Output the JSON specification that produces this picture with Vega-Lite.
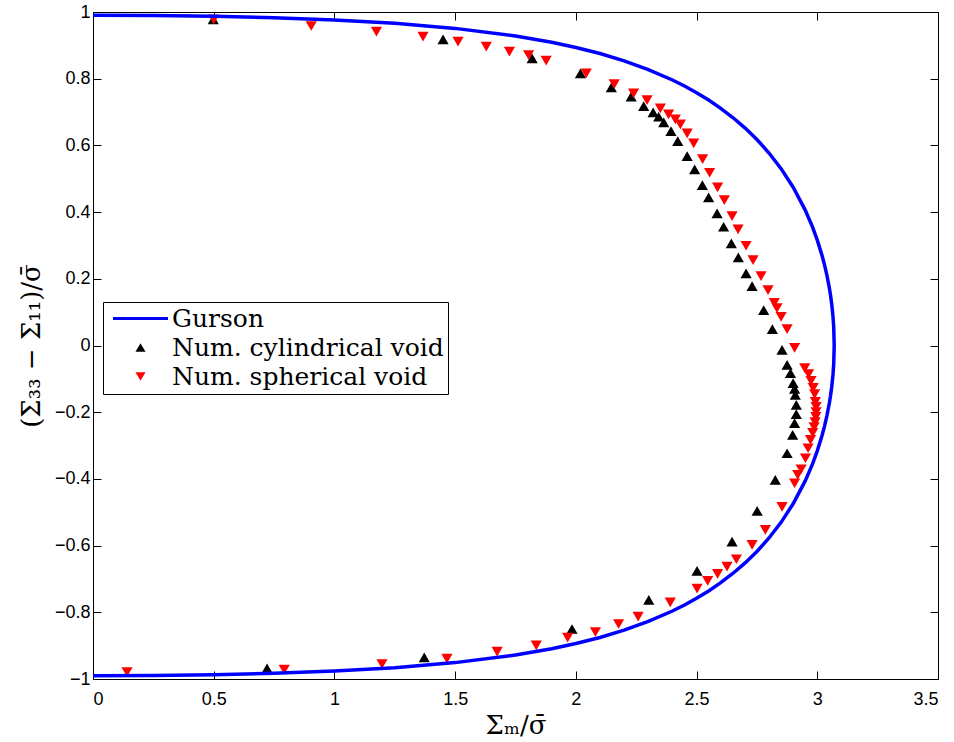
{
  "$schema": "https://vega.github.io/schema/vega-lite/v6.json",
  "autosize": "none",
  "width": 845,
  "height": 667,
  "padding": {"left": 93, "top": 12, "right": 16, "bottom": 63},
  "background": "white",
  "config": {
    "view": {"stroke": "black", "strokeWidth": 1},
    "axis": {
      "domainColor": "black", "domainWidth": 1, "tickColor": "black", "tickWidth": 1, "tickSize": -8,
      "grid": false, "labelFont": "Liberation Sans", "labelFontSize": 18, "labelColor": "black",
      "titleFont": "DejaVu Serif", "titleFontSize": 26, "titleFontWeight": "normal", "titleColor": "black"
    },
    "legend": {
      "orient": "none", "legendX": 10, "legendY": 290, "strokeColor": "black", "fillColor": "white",
      "padding": 4, "symbolSize": 100, "symbolOffset": 21, "labelOffset": 19, "labelFont": "DejaVu Serif",
      "labelFontSize": 25, "labelColor": "black", "rowPadding": 3, "labelLimit": 0, "symbolStrokeWidth": 0
    }
  },
  "datasets": {
    "curve": [
      {"i": 0, "x": 0, "y": -0.99}, {"i": 1, "x": 0.25, "y": -0.98928}, {"i": 2, "x": 0.5, "y": -0.98702},
      {"i": 3, "x": 0.75, "y": -0.98288}, {"i": 4, "x": 1.0, "y": -0.97625}, {"i": 5, "x": 1.25, "y": -0.9661},
      {"i": 6, "x": 1.5, "y": -0.95088}, {"i": 7, "x": 1.75, "y": -0.92808}, {"i": 8, "x": 1.9, "y": -0.9092},
      {"i": 9, "x": 2.0, "y": -0.89373}, {"i": 10, "x": 2.1, "y": -0.87539}, {"i": 11, "x": 2.2, "y": -0.85358},
      {"i": 12, "x": 2.3, "y": -0.82752}, {"i": 13, "x": 2.4, "y": -0.79614}, {"i": 14, "x": 2.45, "y": -0.77805},
      {"i": 15, "x": 2.5, "y": -0.75806}, {"i": 16, "x": 2.55, "y": -0.73591}, {"i": 17, "x": 2.6, "y": -0.71125},
      {"i": 18, "x": 2.65, "y": -0.68368}, {"i": 19, "x": 2.7, "y": -0.65265}, {"i": 20, "x": 2.75, "y": -0.61746},
      {"i": 21, "x": 2.8, "y": -0.57714}, {"i": 22, "x": 2.85, "y": -0.53025}, {"i": 23, "x": 2.9, "y": -0.47455},
      {"i": 24, "x": 2.95, "y": -0.40603}, {"i": 25, "x": 2.98, "y": -0.35556}, {"i": 26, "x": 3.0, "y": -0.31594},
      {"i": 27, "x": 3.02, "y": -0.26907}, {"i": 28, "x": 3.03, "y": -0.24162}, {"i": 29, "x": 3.04, "y": -0.21014},
      {"i": 30, "x": 3.05, "y": -0.1724}, {"i": 31, "x": 3.055, "y": -0.14967}, {"i": 32, "x": 3.06, "y": -0.12272},
      {"i": 33, "x": 3.065, "y": -0.0874}, {"i": 34, "x": 3.068, "y": -0.0563}, {"i": 35, "x": 3.0701, "y": 0},
      {"i": 36, "x": 3.068, "y": 0.0563}, {"i": 37, "x": 3.065, "y": 0.0874}, {"i": 38, "x": 3.06, "y": 0.12272},
      {"i": 39, "x": 3.055, "y": 0.14967}, {"i": 40, "x": 3.05, "y": 0.1724}, {"i": 41, "x": 3.04, "y": 0.21014},
      {"i": 42, "x": 3.03, "y": 0.24162}, {"i": 43, "x": 3.02, "y": 0.26907}, {"i": 44, "x": 3.0, "y": 0.31594},
      {"i": 45, "x": 2.98, "y": 0.35556}, {"i": 46, "x": 2.95, "y": 0.40603}, {"i": 47, "x": 2.9, "y": 0.47455},
      {"i": 48, "x": 2.85, "y": 0.53025}, {"i": 49, "x": 2.8, "y": 0.57714}, {"i": 50, "x": 2.75, "y": 0.61746},
      {"i": 51, "x": 2.7, "y": 0.65265}, {"i": 52, "x": 2.65, "y": 0.68368}, {"i": 53, "x": 2.6, "y": 0.71125},
      {"i": 54, "x": 2.55, "y": 0.73591}, {"i": 55, "x": 2.5, "y": 0.75806}, {"i": 56, "x": 2.45, "y": 0.77805},
      {"i": 57, "x": 2.4, "y": 0.79614}, {"i": 58, "x": 2.3, "y": 0.82752}, {"i": 59, "x": 2.2, "y": 0.85358},
      {"i": 60, "x": 2.1, "y": 0.87539}, {"i": 61, "x": 2.0, "y": 0.89373}, {"i": 62, "x": 1.9, "y": 0.9092},
      {"i": 63, "x": 1.75, "y": 0.92808}, {"i": 64, "x": 1.5, "y": 0.95088}, {"i": 65, "x": 1.25, "y": 0.9661},
      {"i": 66, "x": 1.0, "y": 0.97625}, {"i": 67, "x": 0.75, "y": 0.98288}, {"i": 68, "x": 0.5, "y": 0.98702},
      {"i": 69, "x": 0.25, "y": 0.98928}, {"i": 70, "x": 0, "y": 0.99}
    ],
    "points": [
      {"s": "Num. cylindrical void", "x": 0.498, "y": 0.978}, {"s": "Num. cylindrical void", "x": 1.45, "y": 0.918},
      {"s": "Num. cylindrical void", "x": 1.819, "y": 0.861}, {"s": "Num. cylindrical void", "x": 2.019, "y": 0.816},
      {"s": "Num. cylindrical void", "x": 2.147, "y": 0.774}, {"s": "Num. cylindrical void", "x": 2.229, "y": 0.746},
      {"s": "Num. cylindrical void", "x": 2.281, "y": 0.718}, {"s": "Num. cylindrical void", "x": 2.32, "y": 0.699},
      {"s": "Num. cylindrical void", "x": 2.343, "y": 0.686}, {"s": "Num. cylindrical void", "x": 2.364, "y": 0.669},
      {"s": "Num. cylindrical void", "x": 2.394, "y": 0.643}, {"s": "Num. cylindrical void", "x": 2.422, "y": 0.613},
      {"s": "Num. cylindrical void", "x": 2.461, "y": 0.568}, {"s": "Num. cylindrical void", "x": 2.492, "y": 0.528},
      {"s": "Num. cylindrical void", "x": 2.524, "y": 0.481}, {"s": "Num. cylindrical void", "x": 2.55, "y": 0.444},
      {"s": "Num. cylindrical void", "x": 2.585, "y": 0.396}, {"s": "Num. cylindrical void", "x": 2.612, "y": 0.356},
      {"s": "Num. cylindrical void", "x": 2.644, "y": 0.306}, {"s": "Num. cylindrical void", "x": 2.673, "y": 0.264},
      {"s": "Num. cylindrical void", "x": 2.705, "y": 0.216}, {"s": "Num. cylindrical void", "x": 2.73, "y": 0.178},
      {"s": "Num. cylindrical void", "x": 2.778, "y": 0.106}, {"s": "Num. cylindrical void", "x": 2.814, "y": 0.049},
      {"s": "Num. cylindrical void", "x": 2.854, "y": -0.013}, {"s": "Num. cylindrical void", "x": 2.875, "y": -0.058},
      {"s": "Num. cylindrical void", "x": 2.889, "y": -0.083}, {"s": "Num. cylindrical void", "x": 2.9, "y": -0.113},
      {"s": "Num. cylindrical void", "x": 2.906, "y": -0.13}, {"s": "Num. cylindrical void", "x": 2.909, "y": -0.148},
      {"s": "Num. cylindrical void", "x": 2.913, "y": -0.178}, {"s": "Num. cylindrical void", "x": 2.913, "y": -0.206},
      {"s": "Num. cylindrical void", "x": 2.906, "y": -0.233}, {"s": "Num. cylindrical void", "x": 2.898, "y": -0.268},
      {"s": "Num. cylindrical void", "x": 2.875, "y": -0.323}, {"s": "Num. cylindrical void", "x": 2.826, "y": -0.403},
      {"s": "Num. cylindrical void", "x": 2.751, "y": -0.496}, {"s": "Num. cylindrical void", "x": 2.647, "y": -0.588},
      {"s": "Num. cylindrical void", "x": 2.502, "y": -0.676}, {"s": "Num. cylindrical void", "x": 2.302, "y": -0.763},
      {"s": "Num. cylindrical void", "x": 1.984, "y": -0.85}, {"s": "Num. cylindrical void", "x": 1.372, "y": -0.935},
      {"s": "Num. cylindrical void", "x": 0.721, "y": -0.968},
      {"s": "Num. spherical void", "x": 0.5, "y": 0.978}, {"s": "Num. spherical void", "x": 0.904, "y": 0.958},
      {"s": "Num. spherical void", "x": 1.174, "y": 0.941}, {"s": "Num. spherical void", "x": 1.367, "y": 0.926},
      {"s": "Num. spherical void", "x": 1.512, "y": 0.911}, {"s": "Num. spherical void", "x": 1.629, "y": 0.896},
      {"s": "Num. spherical void", "x": 1.725, "y": 0.881}, {"s": "Num. spherical void", "x": 1.804, "y": 0.871},
      {"s": "Num. spherical void", "x": 1.877, "y": 0.854}, {"s": "Num. spherical void", "x": 2.043, "y": 0.816},
      {"s": "Num. spherical void", "x": 2.159, "y": 0.784}, {"s": "Num. spherical void", "x": 2.239, "y": 0.756},
      {"s": "Num. spherical void", "x": 2.295, "y": 0.736}, {"s": "Num. spherical void", "x": 2.35, "y": 0.711},
      {"s": "Num. spherical void", "x": 2.384, "y": 0.693}, {"s": "Num. spherical void", "x": 2.412, "y": 0.678},
      {"s": "Num. spherical void", "x": 2.433, "y": 0.663}, {"s": "Num. spherical void", "x": 2.461, "y": 0.636},
      {"s": "Num. spherical void", "x": 2.488, "y": 0.606}, {"s": "Num. spherical void", "x": 2.525, "y": 0.559},
      {"s": "Num. spherical void", "x": 2.554, "y": 0.518}, {"s": "Num. spherical void", "x": 2.587, "y": 0.474},
      {"s": "Num. spherical void", "x": 2.615, "y": 0.436}, {"s": "Num. spherical void", "x": 2.647, "y": 0.388},
      {"s": "Num. spherical void", "x": 2.672, "y": 0.348}, {"s": "Num. spherical void", "x": 2.705, "y": 0.299},
      {"s": "Num. spherical void", "x": 2.734, "y": 0.256}, {"s": "Num. spherical void", "x": 2.767, "y": 0.208},
      {"s": "Num. spherical void", "x": 2.796, "y": 0.166}, {"s": "Num. spherical void", "x": 2.822, "y": 0.128},
      {"s": "Num. spherical void", "x": 2.833, "y": 0.112}, {"s": "Num. spherical void", "x": 2.85, "y": 0.086},
      {"s": "Num. spherical void", "x": 2.875, "y": 0.049}, {"s": "Num. spherical void", "x": 2.906, "y": -0.007},
      {"s": "Num. spherical void", "x": 2.948, "y": -0.068}, {"s": "Num. spherical void", "x": 2.964, "y": -0.086},
      {"s": "Num. spherical void", "x": 2.974, "y": -0.106}, {"s": "Num. spherical void", "x": 2.983, "y": -0.127},
      {"s": "Num. spherical void", "x": 2.989, "y": -0.146}, {"s": "Num. spherical void", "x": 2.992, "y": -0.169},
      {"s": "Num. spherical void", "x": 2.995, "y": -0.184}, {"s": "Num. spherical void", "x": 2.995, "y": -0.2},
      {"s": "Num. spherical void", "x": 2.994, "y": -0.214}, {"s": "Num. spherical void", "x": 2.991, "y": -0.23},
      {"s": "Num. spherical void", "x": 2.987, "y": -0.245}, {"s": "Num. spherical void", "x": 2.981, "y": -0.262},
      {"s": "Num. spherical void", "x": 2.972, "y": -0.283}, {"s": "Num. spherical void", "x": 2.962, "y": -0.308},
      {"s": "Num. spherical void", "x": 2.951, "y": -0.338}, {"s": "Num. spherical void", "x": 2.933, "y": -0.371},
      {"s": "Num. spherical void", "x": 2.919, "y": -0.388}, {"s": "Num. spherical void", "x": 2.906, "y": -0.413},
      {"s": "Num. spherical void", "x": 2.854, "y": -0.484}, {"s": "Num. spherical void", "x": 2.785, "y": -0.553},
      {"s": "Num. spherical void", "x": 2.73, "y": -0.598}, {"s": "Num. spherical void", "x": 2.665, "y": -0.641},
      {"s": "Num. spherical void", "x": 2.626, "y": -0.663}, {"s": "Num. spherical void", "x": 2.587, "y": -0.685},
      {"s": "Num. spherical void", "x": 2.546, "y": -0.706}, {"s": "Num. spherical void", "x": 2.502, "y": -0.729},
      {"s": "Num. spherical void", "x": 2.391, "y": -0.77}, {"s": "Num. spherical void", "x": 2.258, "y": -0.813},
      {"s": "Num. spherical void", "x": 2.177, "y": -0.835}, {"s": "Num. spherical void", "x": 2.081, "y": -0.859},
      {"s": "Num. spherical void", "x": 1.966, "y": -0.876}, {"s": "Num. spherical void", "x": 1.836, "y": -0.899},
      {"s": "Num. spherical void", "x": 1.674, "y": -0.918}, {"s": "Num. spherical void", "x": 1.466, "y": -0.939},
      {"s": "Num. spherical void", "x": 1.197, "y": -0.955}, {"s": "Num. spherical void", "x": 0.792, "y": -0.972},
      {"s": "Num. spherical void", "x": 0.141, "y": -0.979}
    ]
  },
  "layer": [
    {
      "data": {"name": "points"},
      "mark": {"type": "point", "filled": true, "size": 125, "opacity": 1, "strokeWidth": 0},
      "encoding": {
        "x": {"field": "x", "type": "quantitative", "scale": {"domain": [0, 3.5], "nice": false, "zero": false},
              "axis": {"orient": "top", "labels": false, "title": null, "values": [0, 0.5, 1, 1.5, 2, 2.5, 3, 3.5]}},
        "y": {"field": "y", "type": "quantitative", "scale": {"domain": [-1, 1], "nice": false, "zero": false},
              "axis": {"orient": "right", "labels": false, "title": null, "values": [-1, -0.8, -0.6, -0.4, -0.2, 0, 0.2, 0.4, 0.6, 0.8, 1]}},
        "color": {"field": "s", "type": "nominal",
                  "scale": {"domain": ["Gurson", "Num. cylindrical void", "Num. spherical void"], "range": ["#0000ff", "#000000", "#ff0000"]},
                  "legend": {"title": null}},
        "shape": {"field": "s", "type": "nominal",
                  "scale": {"domain": ["Gurson", "Num. cylindrical void", "Num. spherical void"], "range": ["M-5.5,-0.3H5.5V0.3H-5.5Z", "triangle-up", "triangle-down"]},
                  "legend": {"title": null}}
      }
    },
    {
      "data": {"name": "curve"},
      "mark": {"type": "line", "color": "#0000ff", "strokeWidth": 3.5},
      "encoding": {
        "x": {"field": "x", "type": "quantitative", "scale": {"domain": [0, 3.5], "nice": false, "zero": false},
              "axis": {"orient": "bottom", "title": "Σₘ/σ̄", "format": "~g", "labelPadding": 19, "titlePadding": 4,
                       "values": [0, 0.5, 1, 1.5, 2, 2.5, 3, 3.5]}},
        "y": {"field": "y", "type": "quantitative", "scale": {"domain": [-1, 1], "nice": false, "zero": false},
              "axis": {"orient": "left", "title": "(Σ₃₃ − Σ₁₁)/σ̄", "format": "~g", "labelPadding": 11, "titlePadding": 10,
                       "values": [-1, -0.8, -0.6, -0.4, -0.2, 0, 0.2, 0.4, 0.6, 0.8, 1]}},
        "order": {"field": "i", "type": "quantitative"}
      }
    }
  ],
  "resolve": {"axis": {"x": "independent", "y": "independent"}}
}
